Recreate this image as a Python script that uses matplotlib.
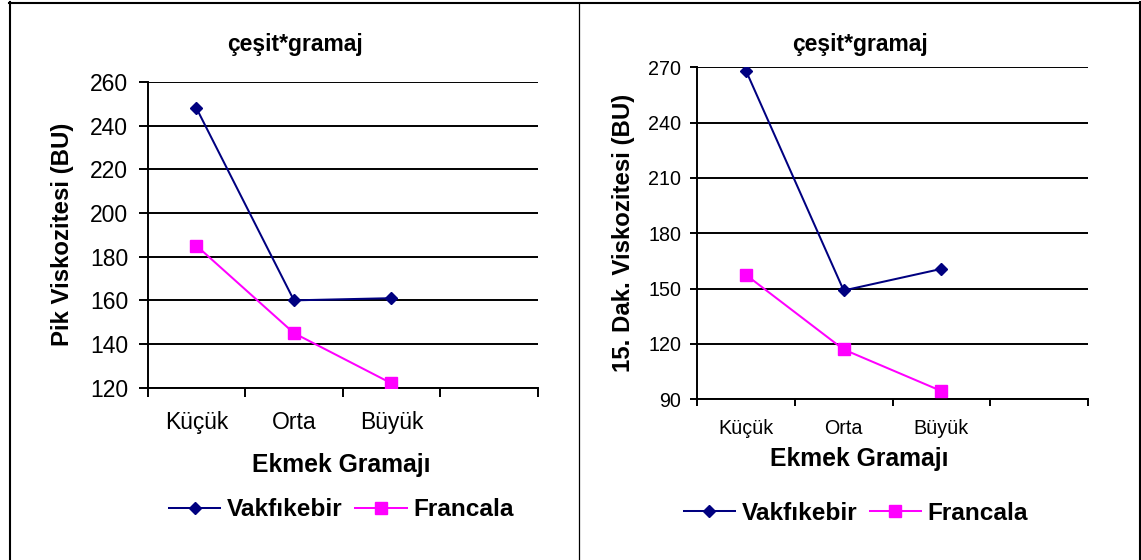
import matplotlib.pyplot as plt
from matplotlib.lines import Line2D
import numpy as np

plt.rcParams['font.family'] = ['Liberation Sans', 'DejaVu Sans']

categories = ['Küçük', 'Orta', 'Büyük']
series_names = ['Vakfıkebir', 'Francala']

# Pik viskozitesi (BU)
pik_vakfikebir = [248, 160, 161]
pik_francala = [185, 145, 122]

# 15. dakika viskozitesi (BU)
dak15_vakfikebir = [268, 149, 160.7]
dak15_francala = [157.4, 117, 94.5]

W, H = 1141, 560
fig = plt.figure(figsize=(W / 100, H / 100), dpi=100)
fig.patch.set_facecolor('white')


def px_axes(x0, x1, ytop, ybot):
    return fig.add_axes([x0 / W, (H - ybot) / H, (x1 - x0) / W, (ybot - ytop) / H])


def fx(x):
    return x / W


def fy(y):
    return (H - y) / H


def draw_panel(ax, vak, fra, ylim, yticks, ylabel, pos, sty):
    tick_fs, xpad, ylen, ypad, xlen = sty
    x = np.arange(len(categories))
    ax.plot(x, vak, color='#000080', lw=1.45, marker='D', ms=6.2,
            label=series_names[0], zorder=3)
    ax.plot(x, fra, color='#FF00FF', lw=1.45, marker='s', ms=8.4,
            label=series_names[1], zorder=3)

    ax.set_xlim(-0.5, 3.5)
    ax.set_ylim(*ylim)
    ax.set_yticks(yticks)
    ax.yaxis.grid(True, color='black', lw=1.4)
    ax.set_axisbelow(True)

    ax.set_xticks(np.arange(-0.5, 3.6, 1.0))
    ax.set_xticklabels([])
    ax.set_xticks(x, minor=True)
    ax.set_xticklabels(categories, minor=True)
    ax.tick_params(axis='x', which='major', length=xlen, width=1.4, direction='out')
    ax.tick_params(axis='x', which='minor', length=0, pad=xpad, labelsize=tick_fs)
    ax.tick_params(axis='y', length=ylen, width=1.4, direction='out', pad=ypad,
                   labelsize=tick_fs)

    for s in ['top', 'right']:
        ax.spines[s].set_visible(False)
    for s in ['left', 'bottom']:
        ax.spines[s].set_linewidth(1.4)
        ax.spines[s].set_color('black')

    title_xy, ylab_xy, xlab_xy, leg_xy = pos
    fig.text(fx(title_xy[0]), fy(title_xy[1]), 'çeşit*gramaj', ha='center',
             va='center', fontsize=16.5, fontweight='bold')
    fig.text(fx(ylab_xy[0]), fy(ylab_xy[1]), ylabel, ha='center', va='center',
             rotation=90, fontsize=17.3, fontweight='bold')
    fig.text(fx(xlab_xy[0]), fy(xlab_xy[1]), 'Ekmek Gramajı', ha='center',
             va='center', fontsize=17.8, fontweight='bold')
    ax.legend(loc='center', bbox_to_anchor=(fx(leg_xy[0]), fy(leg_xy[1])),
              bbox_transform=fig.transFigure, ncol=2, frameon=False,
              prop={'weight': 'bold', 'size': 17.6}, handlelength=2.1,
              handletextpad=0.27, columnspacing=0.52, borderpad=0,
              borderaxespad=0)


ax1 = px_axes(147.7, 537.7, 82, 387.7)
draw_panel(ax1, pik_vakfikebir, pik_francala, (120, 260), range(120, 261, 20),
           'Pik Viskozitesi (BU)',
           ((295, 45), (62.5, 234), (341.7, 465), (341.4, 510)),
           (16.5, 17, 6.5, 7.6, 6.5))

ax2 = px_axes(697.3, 1087.7, 67.3, 399.3)
draw_panel(ax2, dak15_vakfikebir, dak15_francala, (90, 270), range(90, 271, 30),
           '15. Dak. Viskozitesi (BU)',
           ((860, 44.3), (623.5, 233), (859.7, 459.3), (855.9, 513.5)),
           (14.2, 14, 5, 6.5, 5))

# panel frames
frame = dict(color='black', transform=fig.transFigure)
fig.add_artist(Line2D([fx(10), fx(10)], [fy(2), 0], lw=1.5, **frame))
fig.add_artist(Line2D([fx(9), fx(1141)], [fy(3), fy(3)], lw=1.5, **frame))
fig.add_artist(Line2D([fx(578.5), fx(578.5)], [fy(3), 0], lw=0.9, **frame))
fig.add_artist(Line2D([fx(1140), fx(1140)], [fy(2), 0], lw=1.5, **frame))

fig.savefig('out.png', dpi=100, facecolor='white')
